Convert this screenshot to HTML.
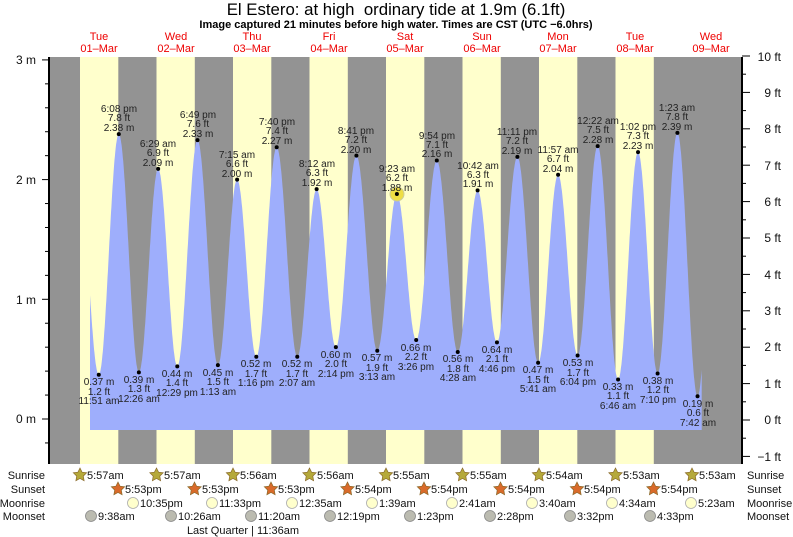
<!DOCTYPE html>
<html><head><meta charset="utf-8"><style>
html,body{margin:0;padding:0;background:#fff;}
svg{display:block;font-family:"Liberation Sans",sans-serif;}
.l{font-size:10px;fill:#222;text-anchor:middle;}
.r{font-size:11px;fill:#111;}
.d{font-size:11px;fill:#e00;text-anchor:middle;}
</style></head><body>
<svg id="s" width="793" height="537" viewBox="0 0 793 537" xmlns="http://www.w3.org/2000/svg">
<text x="396" y="15" font-size="16.8" text-anchor="middle" fill="#000">El Estero: at high &#160;ordinary tide at 1.9m (6.1ft)</text>
<text x="396" y="28" font-size="11" font-weight="bold" text-anchor="middle" fill="#000">Image captured 21 minutes before high water. Times are CST (UTC −6.0hrs)</text>
<g id="bands"></g>
<path id="tide" fill="#9eaefc" d=""/>
<g id="ticks" stroke="#000" stroke-width="1"></g>
<line x1="49" y1="57" x2="49" y2="464" stroke="#000" stroke-width="2"/>
<line x1="742" y1="57" x2="742" y2="464" stroke="#000" stroke-width="2"/>
<g font-size="12" fill="#111" text-anchor="end">
<text x="36" y="64">3 m</text><text x="36" y="184">2 m</text><text x="36" y="304">1 m</text><text x="36" y="423">0 m</text>
</g>
<g font-size="12" fill="#111" text-anchor="end">
<text x="781" y="61">10 ft</text><text x="781" y="97">9 ft</text><text x="781" y="133">8 ft</text><text x="781" y="170">7 ft</text><text x="781" y="206">6 ft</text><text x="781" y="242">5 ft</text><text x="781" y="279">4 ft</text><text x="781" y="315">3 ft</text><text x="781" y="351">2 ft</text><text x="781" y="388">1 ft</text><text x="781" y="424">0 ft</text><text x="781" y="461">−1 ft</text>
</g>
<g>
<text class="d" x="99" y="40">Tue</text><text class="d" x="99" y="52">01–Mar</text>
<text class="d" x="176" y="40">Wed</text><text class="d" x="176" y="52">02–Mar</text>
<text class="d" x="252" y="40">Thu</text><text class="d" x="252" y="52">03–Mar</text>
<text class="d" x="329" y="40">Fri</text><text class="d" x="329" y="52">04–Mar</text>
<text class="d" x="405" y="40">Sat</text><text class="d" x="405" y="52">05–Mar</text>
<text class="d" x="482" y="40">Sun</text><text class="d" x="482" y="52">06–Mar</text>
<text class="d" x="558" y="40">Mon</text><text class="d" x="558" y="52">07–Mar</text>
<text class="d" x="635" y="40">Tue</text><text class="d" x="635" y="52">08–Mar</text>
<text class="d" x="711" y="40">Wed</text><text class="d" x="711" y="52">09–Mar</text>
</g>
<circle cx="397" cy="194" r="7" fill="#eedd44" stroke="#cc9" stroke-width="1"/>
<g id="dots" fill="#000"></g>
<g>
<text class="l" x="99" y="385">0.37 m</text><text class="l" x="99" y="395">1.2 ft</text><text class="l" x="99" y="404">11:51 am</text>
<text class="l" x="119" y="131">2.38 m</text><text class="l" x="119" y="121">7.8 ft</text><text class="l" x="119" y="112">6:08 pm</text>
<text class="l" x="139" y="383">0.39 m</text><text class="l" x="139" y="392">1.3 ft</text><text class="l" x="139" y="402">12:26 am</text>
<text class="l" x="158" y="166">2.09 m</text><text class="l" x="158" y="156">6.9 ft</text><text class="l" x="158" y="147">6:29 am</text>
<text class="l" x="177" y="377">0.44 m</text><text class="l" x="177" y="386">1.4 ft</text><text class="l" x="177" y="396">12:29 pm</text>
<text class="l" x="198" y="137">2.33 m</text><text class="l" x="198" y="127">7.6 ft</text><text class="l" x="198" y="118">6:49 pm</text>
<text class="l" x="218" y="376">0.45 m</text><text class="l" x="218" y="385">1.5 ft</text><text class="l" x="218" y="395">1:13 am</text>
<text class="l" x="237" y="177">2.00 m</text><text class="l" x="237" y="167">6.6 ft</text><text class="l" x="237" y="158">7:15 am</text>
<text class="l" x="256" y="367">0.52 m</text><text class="l" x="256" y="377">1.7 ft</text><text class="l" x="256" y="386">1:16 pm</text>
<text class="l" x="277" y="144">2.27 m</text><text class="l" x="277" y="134">7.4 ft</text><text class="l" x="277" y="125">7:40 pm</text>
<text class="l" x="297" y="367">0.52 m</text><text class="l" x="297" y="377">1.7 ft</text><text class="l" x="297" y="386">2:07 am</text>
<text class="l" x="317" y="186">1.92 m</text><text class="l" x="317" y="176">6.3 ft</text><text class="l" x="317" y="167">8:12 am</text>
<text class="l" x="336" y="358">0.60 m</text><text class="l" x="336" y="367">2.0 ft</text><text class="l" x="336" y="377">2:14 pm</text>
<text class="l" x="356" y="153">2.20 m</text><text class="l" x="356" y="143">7.2 ft</text><text class="l" x="356" y="134">8:41 pm</text>
<text class="l" x="377" y="361">0.57 m</text><text class="l" x="377" y="371">1.9 ft</text><text class="l" x="377" y="380">3:13 am</text>
<text class="l" x="397" y="191">1.88 m</text><text class="l" x="397" y="181">6.2 ft</text><text class="l" x="397" y="172">9:23 am</text>
<text class="l" x="416" y="351">0.66 m</text><text class="l" x="416" y="360">2.2 ft</text><text class="l" x="416" y="370">3:26 pm</text>
<text class="l" x="437" y="157">2.16 m</text><text class="l" x="437" y="148">7.1 ft</text><text class="l" x="437" y="139">9:54 pm</text>
<text class="l" x="458" y="362">0.56 m</text><text class="l" x="458" y="372">1.8 ft</text><text class="l" x="458" y="381">4:28 am</text>
<text class="l" x="478" y="187">1.91 m</text><text class="l" x="478" y="178">6.3 ft</text><text class="l" x="478" y="169">10:42 am</text>
<text class="l" x="497" y="353">0.64 m</text><text class="l" x="497" y="362">2.1 ft</text><text class="l" x="497" y="372">4:46 pm</text>
<text class="l" x="517" y="154">2.19 m</text><text class="l" x="517" y="144">7.2 ft</text><text class="l" x="517" y="135">11:11 pm</text>
<text class="l" x="538" y="373">0.47 m</text><text class="l" x="538" y="383">1.5 ft</text><text class="l" x="538" y="392">5:41 am</text>
<text class="l" x="558" y="172">2.04 m</text><text class="l" x="558" y="162">6.7 ft</text><text class="l" x="558" y="153">11:57 am</text>
<text class="l" x="578" y="366">0.53 m</text><text class="l" x="578" y="376">1.7 ft</text><text class="l" x="578" y="385">6:04 pm</text>
<text class="l" x="598" y="143">2.28 m</text><text class="l" x="598" y="133">7.5 ft</text><text class="l" x="598" y="124">12:22 am</text>
<text class="l" x="618" y="390">0.33 m</text><text class="l" x="618" y="399">1.1 ft</text><text class="l" x="618" y="409">6:46 am</text>
<text class="l" x="638" y="149">2.23 m</text><text class="l" x="638" y="139">7.3 ft</text><text class="l" x="638" y="130">1:02 pm</text>
<text class="l" x="658" y="384">0.38 m</text><text class="l" x="658" y="393">1.2 ft</text><text class="l" x="658" y="403">7:10 pm</text>
<text class="l" x="677" y="130">2.39 m</text><text class="l" x="677" y="120">7.8 ft</text><text class="l" x="677" y="111">1:23 am</text>
<text class="l" x="698" y="407">0.19 m</text><text class="l" x="698" y="416">0.6 ft</text><text class="l" x="698" y="426">7:42 am</text>
</g>
<g class="r" text-anchor="end">
<text x="45" y="479">Sunrise</text><text x="45" y="493">Sunset</text><text x="45" y="507">Moonrise</text><text x="45" y="520">Moonset</text>
</g>
<g class="r">
<text x="747" y="479">Sunrise</text><text x="747" y="493">Sunset</text><text x="747" y="507">Moonrise</text><text x="747" y="520">Moonset</text>
</g>
<g id="icons"></g>
<g class="r">
<text x="87" y="479">5:57am</text><text x="164" y="479">5:57am</text><text x="240" y="479">5:56am</text><text x="317" y="479">5:56am</text><text x="393" y="479">5:55am</text><text x="470" y="479">5:55am</text><text x="546" y="479">5:54am</text><text x="623" y="479">5:53am</text><text x="699" y="479">5:53am</text>
<text x="125" y="493">5:53pm</text><text x="202" y="493">5:53pm</text><text x="278" y="493">5:53pm</text><text x="355" y="493">5:54pm</text><text x="431" y="493">5:54pm</text><text x="508" y="493">5:54pm</text><text x="584" y="493">5:54pm</text><text x="661" y="493">5:54pm</text>
<text x="140" y="507">10:35pm</text><text x="219" y="507">11:33pm</text><text x="299" y="507">12:35am</text><text x="379" y="507">1:39am</text><text x="459" y="507">2:41am</text><text x="539" y="507">3:40am</text><text x="619" y="507">4:34am</text><text x="698" y="507">5:23am</text>
<text x="98" y="520">9:38am</text><text x="178" y="520">10:26am</text><text x="258" y="520">11:20am</text><text x="337" y="520">12:19pm</text><text x="417" y="520">1:23pm</text><text x="497" y="520">2:28pm</text><text x="577" y="520">3:32pm</text><text x="657" y="520">4:33pm</text>
<text x="243" y="534" text-anchor="middle">Last Quarter | 11:36am</text>
</g>
</svg>
<script>
(function(){
var NS="http://www.w3.org/2000/svg";
function el(p,n,a){var e=document.createElementNS(NS,n);for(var k in a)e.setAttribute(k,a[k]);p.appendChild(e);return e;}
var b=document.getElementById("bands");
el(b,"rect",{x:49,y:57,width:693,height:407,fill:"#939393"});
for(var k=0;k<8;k++){var x0=80+76.5*k;el(b,"rect",{x:x0,y:57,width:38.3,height:407,fill:"#ffffcc"});}
var E=[[5.5,2.05],[11.85,.37],[18.13,2.38],[24.43,.39],[30.48,2.09],[36.48,.44],[42.82,2.33],[49.22,.45],[55.25,2.0],[61.27,.52],[67.67,2.27],[74.12,.52],[80.2,1.92],[86.23,.6],[92.68,2.2],[99.22,.57],[105.38,1.88],[111.43,.66],[117.9,2.16],[124.47,.56],[130.7,1.91],[136.77,.64],[143.18,2.19],[149.68,.47],[155.95,2.04],[162.07,.53],[168.37,2.28],[174.77,.33],[181.03,2.23],[187.17,.38],[193.38,2.39],[199.7,.19],[205.9,2.3]];
function X(t){return 61+3.1875*t;}function Y(h){return 419-119.7*h;}
function H(t){for(var i=0;i<E.length-1;i++){if(t>=E[i][0]&&t<=E[i+1][0]){var f=(t-E[i][0])/(E[i+1][0]-E[i][0]);return E[i+1][1]+(E[i][1]-E[i+1][1])*(1+Math.cos(Math.PI*f))/2;}}return 0;}
var d="M"+X(9.1).toFixed(1)+",430";
for(var t=9.1;t<=201.01;t+=0.1){d+="L"+X(t).toFixed(1)+","+Y(H(t)).toFixed(1);}
d+="L"+X(201).toFixed(1)+",430Z";
document.getElementById("tide").setAttribute("d",d);
var g=document.getElementById("dots");
for(var i=1;i<E.length-1;i++)el(g,"circle",{cx:X(E[i][0]),cy:Y(E[i][1]),r:2});
var tk=document.getElementById("ticks");
for(var m=-0.2;m<=3.01;m+=0.2){var y=Y(m);var maj=Math.abs(m-Math.round(m))<0.01;el(tk,"line",{x1:maj?42:45,y1:y,x2:49,y2:y});}
for(var f=-1;f<=10.01;f+=0.5){var y=420-36.4*f;var maj=Math.abs(f-Math.round(f))<0.01;el(tk,"line",{x1:742,y1:y,x2:maj?750:746,y2:y});}
var ic=document.getElementById("icons");
function star(cx,cy,r,fill){var p="";for(var j=0;j<10;j++){var a=-Math.PI/2+j*Math.PI/5,rr=j%2?r*0.5:r;p+=(cx+rr*Math.cos(a)).toFixed(1)+","+(cy+rr*Math.sin(a)).toFixed(1)+" ";}el(ic,"polygon",{points:p,fill:fill,stroke:"#8a6a2a","stroke-width":0.7});}
for(var k=0;k<9;k++)star(80+76.5*k,475,7,"#b5a93a");
for(var k=0;k<8;k++)star(118+76.5*k,489,7,"#d96a2a");
var mr=[133,212,292,372,452,532,612,691];
mr.forEach(function(x){el(ic,"circle",{cx:x,cy:503,r:5.5,fill:"#ffffcc",stroke:"#aaa","stroke-width":0.8});});
var ms=[91,171,251,330,410,490,570,650];
ms.forEach(function(x){el(ic,"circle",{cx:x,cy:516,r:5.5,fill:"#bbbbb0",stroke:"#888","stroke-width":0.8});});
})();
</script>
</body></html>
